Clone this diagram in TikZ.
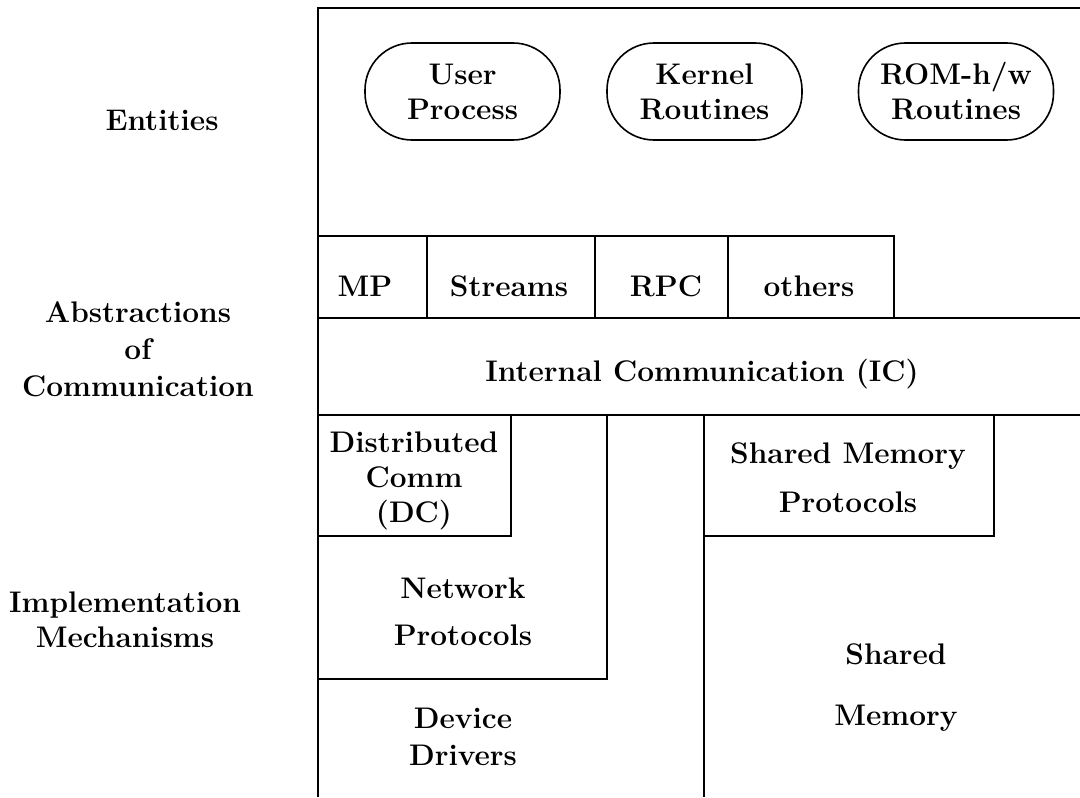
\documentclass[tikz,border=0pt]{standalone}
\begin{document}
\begin{tikzpicture}[x=0.5pt,y=-0.5pt,
  txt/.style={font=\fontsize{14.9}{17.5}\selectfont\bfseries, align=center, inner sep=0pt},
  ent/.style={txt, draw, line width=0.8pt, rounded corners=23.5pt, minimum width=97.5pt, minimum height=48.5pt},
  wall/.style={line width=1.1pt}]
\useasboundingbox (0,0) rectangle (1080,797);
% frame coordinates
\coordinate (tl) at (318,8);
\coordinate (tr) at (1080,8);
\coordinate (bl) at (318,797);
\draw[wall] (tr) -- (tl) -- (bl);
% entities
\node[ent] (up) at (462.5,91.5) {User\\Process};
\node[ent] (kr) at (704.5,91.5) {Kernel\\Routines};
\node[ent] (rom) at (956,91.5) {ROM-h/w\\Routines};
% abstraction row
\coordinate (r0) at (318,236);
\coordinate (r1) at (427,236);
\coordinate (r2) at (595,236);
\coordinate (r3) at (728,236);
\coordinate (r4) at (894,236);
\coordinate (s1) at (427,318);
\coordinate (s2) at (595,318);
\coordinate (s3) at (728,318);
\coordinate (s4) at (894,318);
\draw[wall] (r0) -- (r4) -- (s4);
\draw[wall] (r1) -- (s1);
\draw[wall] (r2) -- (s2);
\draw[wall] (r3) -- (s3);
\node[txt, anchor=base] (mp) at (365,296) {MP};
\node[txt, anchor=base] (streams) at (509,296) {Streams};
\node[txt, anchor=base] (rpc) at (666,296) {RPC};
\node[txt, anchor=base] (others) at (809,296) {others};
% IC
\coordinate (ic1) at (318,318);
\coordinate (ic2) at (1080,318);
\coordinate (ic3) at (318,415);
\coordinate (ic4) at (1080,415);
\draw[wall] (ic1) -- (ic2);
\draw[wall] (ic3) -- (ic4);
\node[txt, anchor=base] (ic) at (702,381) {Internal Communication (IC)};
% DC
\coordinate (dc1) at (511,415);
\coordinate (dc2) at (511,536);
\coordinate (dc3) at (318,536);
\draw[wall] (dc1) -- (dc2) -- (dc3);
\node[txt] (dc) at (414,481) {Distributed\\Comm\\(DC)};
% network protocols
\coordinate (np1) at (607,415);
\coordinate (np2) at (607,679);
\coordinate (np3) at (318,679);
\draw[wall] (np1) -- (np2) -- (np3);
\node[txt] (np) at (463,611.5) {Network\\[6pt]Protocols};
\node[txt] (dd) at (463,736.5) {Device\\[1pt]Drivers};
% shared memory
\coordinate (sm1) at (704,415);
\coordinate (sm2) at (704,797);
\draw[wall] (sm1) -- (sm2);
\coordinate (sp1) at (994,415);
\coordinate (sp2) at (994,536);
\coordinate (sp3) at (704,536);
\draw[wall] (sp1) -- (sp2) -- (sp3);
\node[txt] (smp) at (848,477.5) {Shared Memory\\[7pt]Protocols};
\node[txt] (sm) at (896,688) {Shared\\[13pt]Memory};
% left labels
\node[txt] (lent) at (162,120) {Entities};
\node[txt] (labs) at (138,349) {Abstractions\\[1pt]of\\[1pt]Communication};
\node[txt] (limp) at (125,620) {Implementation\\Mechanisms};
\end{tikzpicture}
\end{document}
